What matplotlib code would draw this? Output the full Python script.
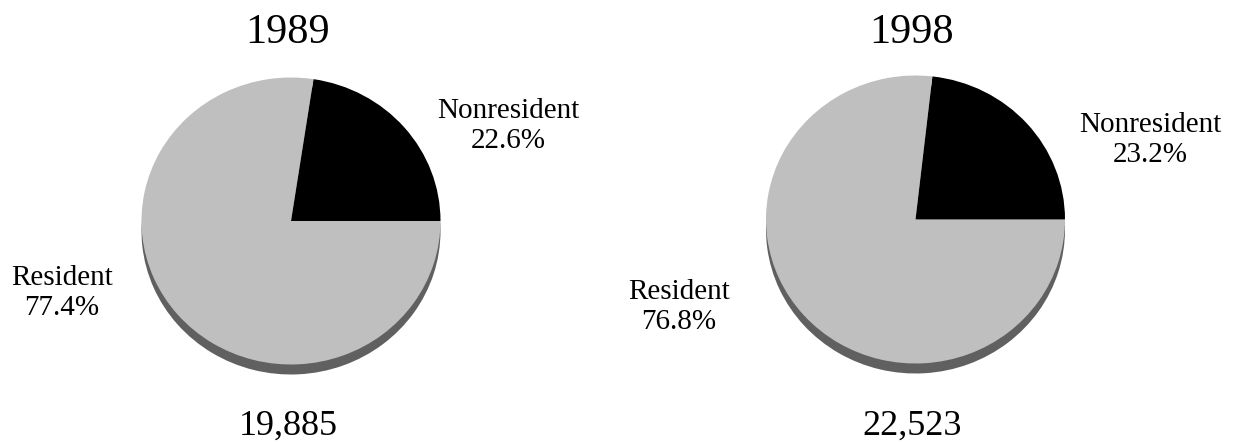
import matplotlib.pyplot as plt

# data
years = ['1989', '1998']
totals = ['19,885', '22,523']
categories = ['Nonresident', 'Resident']
shares_1989 = [22.6, 77.4]
shares_1998 = [23.2, 76.8]

colors = ['#000000', '#bfbfbf']
shadow_color = '#606060'
font = 'Liberation Serif'

W, H = 1239, 443
fig = plt.figure(figsize=(W / 100, H / 100), dpi=100)

# pie boxes in pixels: center x, center y, radius x, radius y
pie_boxes = [(291, 221, 149.5, 143.5), (915.5, 219.5, 149.5, 144)]
shadow_px = 10


def draw_pie(box, shares):
    cx, cy, rx, ry = box
    ax = fig.add_axes([(cx - rx) / W, (H - cy - ry) / H, 2 * rx / W, 2 * ry / H])
    off = shadow_px / ry
    # shadow: same pie shifted down
    ax.pie(shares, colors=[shadow_color] * len(shares), startangle=0,
           counterclock=True, center=(0, -off),
           wedgeprops=dict(linewidth=0, clip_on=False))
    ax.pie(shares, colors=colors, startangle=0, counterclock=True,
           wedgeprops=dict(linewidth=0, clip_on=False))
    ax.set_aspect('auto')
    ax.set_xlim(-1, 1)
    ax.set_ylim(-1, 1)
    ax.axis('off')


draw_pie(pie_boxes[0], shares_1989)
draw_pie(pie_boxes[1], shares_1998)

# overlay axes in pixel coordinates for text
tx = fig.add_axes([0, 0, 1, 1])
tx.set_xlim(0, W)
tx.set_ylim(H, 0)
tx.axis('off')

title_x = [288, 912]
for x, y in zip(title_x, years):
    tx.text(x, 43, y, ha='center', va='baseline', fontsize=30.5, family=font)
for x, t in zip(title_x, totals):
    tx.text(x, 435, t, ha='center', va='baseline', fontsize=26, family=font)

# label positions: (center x, first baseline)
label_pos = [
    [(508, 118), (62, 285)],
    [(1150, 132), (679, 299)],
]
for shares, pos in zip([shares_1989, shares_1998], label_pos):
    for cat, val, (x, y) in zip(categories, shares, pos):
        tx.text(x, y, cat, ha='center', va='baseline', fontsize=21, family=font)
        tx.text(x, y + 30, f'{val:.1f}%', ha='center', va='baseline',
                fontsize=21, family=font)

fig.savefig('out.png', dpi=100)
